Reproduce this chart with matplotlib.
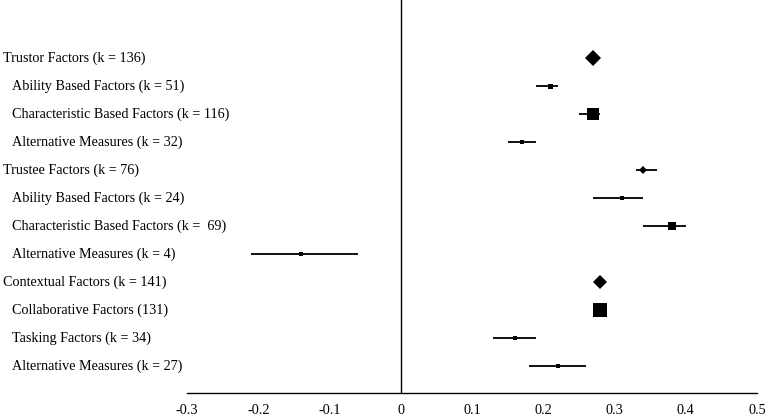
import matplotlib
matplotlib.use("Agg")
import matplotlib.pyplot as plt
from matplotlib.transforms import blended_transform_factory

labels = [
    "Trustor Factors (k = 136)",
    "Ability Based Factors (k = 51)",
    "Characteristic Based Factors (k = 116)",
    "Alternative Measures (k = 32)",
    "Trustee Factors (k = 76)",
    "Ability Based Factors (k = 24)",
    "Characteristic Based Factors (k =  69)",
    "Alternative Measures (k = 4)",
    "Contextual Factors (k = 141)",
    "Collaborative Factors (131)",
    "Tasking Factors (k = 34)",
    "Alternative Measures (k = 27)",
]
is_summary = [True, False, False, False, True, False, False, False, True, False, False, False]
estimates = [0.27, 0.21, 0.27, 0.17, 0.34, 0.31, 0.38, -0.14, 0.28, 0.28, 0.16, 0.22]
ci_low = [0.265, 0.19, 0.25, 0.15, 0.33, 0.27, 0.34, -0.21, 0.275, 0.27, 0.13, 0.18]
ci_high = [0.275, 0.22, 0.28, 0.19, 0.36, 0.34, 0.40, -0.06, 0.285, 0.29, 0.19, 0.26]
xticks = [-0.3, -0.2, -0.1, 0, 0.1, 0.2, 0.3, 0.4, 0.5]
xtick_labels = ["-0.3", "-0.2", "-0.1", "0", "0.1", "0.2", "0.3", "0.4", "0.5"]

# marker sizes (points) reflecting visual weight in the original
marker_sizes = [7.8, 3.6, 8.8, 3.0, 3.8, 2.4, 5.2, 3.0, 7.0, 9.4, 2.8, 2.4]

plt.rcParams['font.family'] = ['Liberation Serif', 'DejaVu Serif']

fig = plt.figure(figsize=(7.67, 4.18), dpi=100)
ax = fig.add_axes([187 / 767, 1 - 393 / 418, (757 - 187) / 767, 393 / 418])

n = len(labels)
ys = list(range(n))
for i in range(n):
    ax.plot([ci_low[i], ci_high[i]], [ys[i], ys[i]], color="#111111", lw=1.4, solid_capstyle="butt", zorder=2)
    ax.plot([estimates[i]], [ys[i]], marker="D" if is_summary[i] else "s",
            markersize=marker_sizes[i], color="black", markeredgewidth=0, zorder=3)

ax.axvline(0, color="black", lw=1.0, zorder=1)
ax.set_xlim(-0.3, 0.5)
ax.set_ylim(11.96, -2.07)
ax.set_yticks([])
ax.set_xticks(xticks)
ax.set_xticklabels(xtick_labels, fontsize=10.3)
ax.tick_params(axis="x", length=0, pad=8)
for s in ["top", "right", "left"]:
    ax.spines[s].set_visible(False)
ax.spines["bottom"].set_linewidth(1.0)

trans = blended_transform_factory(fig.transFigure, ax.transData)
for i in range(n):
    xpos = 3 / 767 if is_summary[i] else 12 / 767
    ax.text(xpos, ys[i], labels[i], transform=trans, ha="left", va="center", fontsize=10.2, clip_on=False)

fig.savefig("out.png", dpi=100)
